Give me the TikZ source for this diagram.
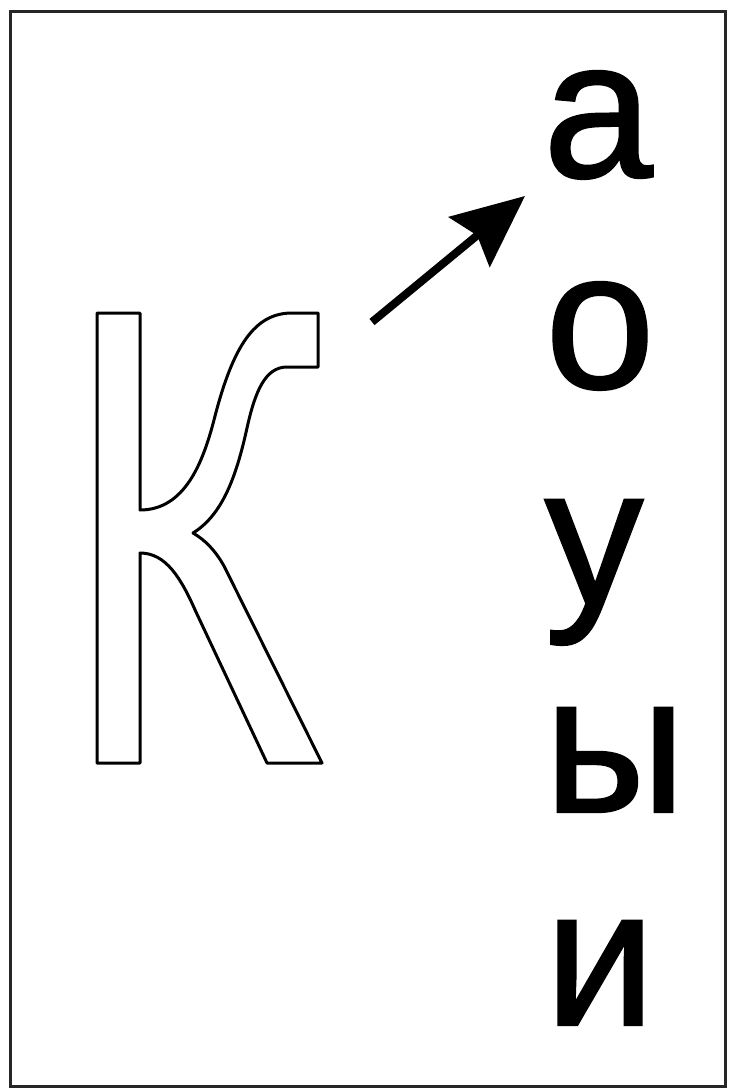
\documentclass[tikz,border=0pt]{standalone}
\usepackage{fontspec}
\newfontfamily\letterfont[FakeBold=1.2]{Liberation Sans}
\usetikzlibrary{arrows.meta}
\tikzset{
  frame/.style={draw=black!85, line width=3pt},
  outlineglyph/.style={draw=black, line width=3pt, line join=round, fill=white},
  vowel/.style={anchor=base, inner sep=0pt, font=\letterfont\fontsize{197}{200}\selectfont},
  pointer/.style={line width=8pt, -{Stealth[length=72pt,width=64pt,inset=10pt]}}
}
\begin{document}
\begin{tikzpicture}[x=1pt,y=-1pt]
\useasboundingbox (0,0) rectangle (728,1089);
\fill[white] (0,0) rectangle (728,1089);
\draw[frame] (10,12) rectangle (725,1086);
% Outlined letter K
\draw[outlineglyph] (97,313) -- (140,313) -- (140,510)
  .. controls (185,510) and (203,462) .. (214,420)
  .. controls (233,345) and (255,313) .. (292,313)
  -- (318,313) -- (318,367) -- (287,367)
  .. controls (265,367) and (255,392) .. (247,428)
  .. controls (236,478) and (222,515) .. (193,533)
  .. controls (205,540) and (215,550) .. (224,566)
  -- (322,763) -- (267,763) -- (196,612)
  .. controls (181,578) and (166,553) .. (140,553)
  -- (140,763) -- (97,763) -- cycle;
\coordinate (kcorner) at (372,322);
% vowels
\node[vowel] (a) at (598,177) {а};
\node[vowel] (o) at (600,388) {о};
\node[vowel] (u) at (594,604) {у};
\node[vowel] (y) at (615,812) {ы};
\node[vowel] (i) at (600,1025) {и};
\coordinate (tip) at (525,196);
\draw[pointer] (kcorner) -- (tip);
\end{tikzpicture}
\end{document}
